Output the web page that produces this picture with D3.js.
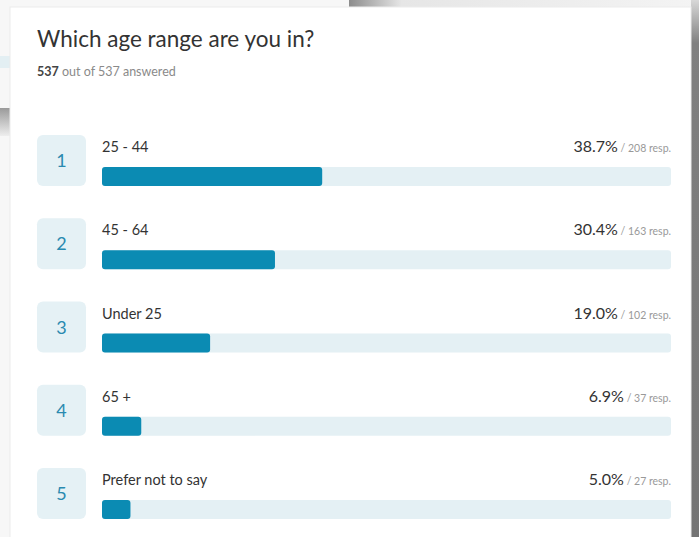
<!DOCTYPE html>
<html>
    <head>
        <meta charset="utf-8">
        <title>Which age range are you in?</title>
        <script src="https://d3js.org/d3.v7.min.js" charset="utf-8"></script>
        <style>
            body { margin: 0; background: #f7f7f7; }
            svg { display: block; font-family: Lato, "Open Sans", sans-serif; }
        </style>
    </head>
    <body>
        <script>
            // data
            var title = "Which age range are you in?";
            var answered = 537, total = 537;
            var ranks = [1, 2, 3, 4, 5];
            var categories = ["25 - 44", "45 - 64", "Under 25", "65 +", "Prefer not to say"];
            var percents = [38.7, 30.4, 19.0, 6.9, 5.0];
            var responses = [208, 163, 102, 37, 27];

            var width = 699, height = 537;
            var barLeft = 102, barWidth = 569, barHeight = 19;

            var svg = d3.select("body").append("svg")
                .attr("width", width)
                .attr("height", height);

            var defs = svg.append("defs");
            var g1 = defs.append("linearGradient").attr("id", "shadeTop").attr("x1", 0).attr("x2", 1);
            g1.append("stop").attr("offset", 0).attr("stop-color", "#8c8c8c");
            g1.append("stop").attr("offset", 0.15).attr("stop-color", "#e6e6e6");
            g1.append("stop").attr("offset", 1).attr("stop-color", "#f4f4f4");
            var g2 = defs.append("linearGradient").attr("id", "shadeRight").attr("x1", 0).attr("x2", 0).attr("y1", 0).attr("y2", 1);
            g2.append("stop").attr("offset", 0).attr("stop-color", "#d8d8d8");
            g2.append("stop").attr("offset", 0.08).attr("stop-color", "#808080");
            g2.append("stop").attr("offset", 1).attr("stop-color", "#747474");
            var g3 = defs.append("linearGradient").attr("id", "shadeLeft").attr("x1", 0).attr("x2", 0).attr("y1", 0).attr("y2", 1);
            g3.append("stop").attr("offset", 0).attr("stop-color", "#9a9a9a");
            g3.append("stop").attr("offset", 1).attr("stop-color", "#eeeeee");

            // screenshot edges (background behind the card)
            svg.append("rect").attr("x", 349).attr("y", 0).attr("width", 350).attr("height", 8).attr("fill", "url(#shadeTop)");
            svg.append("rect").attr("x", 0).attr("y", 56).attr("width", 18).attr("height", 12).attr("fill", "#e3eff3");
            svg.append("rect").attr("x", 0).attr("y", 108).attr("width", 16).attr("height", 28).attr("fill", "url(#shadeLeft)");
            svg.append("rect").attr("x", 691).attr("y", 0).attr("width", 8).attr("height", height).attr("fill", "url(#shadeRight)");

            // card
            svg.append("rect")
                .attr("x", 10).attr("y", 7)
                .attr("width", 681).attr("height", height)
                .attr("fill", "#ffffff")
                .attr("stroke", "#ececec");

            svg.append("text")
                .attr("x", 37).attr("y", 47)
                .attr("font-size", 22.5)
                .attr("fill", "#333")
                .text(title);

            var sub = svg.append("text")
                .attr("x", 37).attr("y", 76)
                .attr("font-size", 12.5)
                .attr("fill", "#8a8a8a");
            sub.append("tspan").attr("font-weight", "bold").attr("fill", "#444").text(answered);
            sub.append("tspan").text(" out of " + total + " answered");

            var x = d3.scaleLinear().domain([0, 100]).range([0, barWidth]);
            var y = d3.scalePoint().domain(categories).range([135, 468]);

            var rows = svg.selectAll(".row")
                .data(categories)
                .enter().append("g")
                .attr("class", "row")
                .attr("transform", function(d) { return "translate(0," + y(d) + ")"; });

            // rank box
            rows.append("rect")
                .attr("x", 37).attr("y", 0)
                .attr("width", 49).attr("height", 51)
                .attr("rx", 6)
                .attr("fill", "#e5f1f5");
            rows.append("text")
                .attr("x", 61.5).attr("y", 32)
                .attr("text-anchor", "middle")
                .attr("font-size", 18)
                .attr("fill", "#2a8ab0")
                .text(function(d, i) { return ranks[i]; });

            // label
            rows.append("text")
                .attr("x", barLeft).attr("y", 17)
                .attr("font-size", 14.5)
                .attr("fill", "#333")
                .text(function(d) { return d; });

            // percent / responses
            var pct = rows.append("text")
                .attr("x", barLeft + barWidth).attr("y", 17)
                .attr("text-anchor", "end");
            pct.append("tspan")
                .attr("font-size", 16)
                .attr("fill", "#333")
                .text(function(d, i) { return percents[i].toFixed(1) + "%"; });
            pct.append("tspan")
                .attr("font-size", 10.5)
                .attr("fill", "#999")
                .text(function(d, i) { return " / " + responses[i] + " resp."; });

            // track and bar
            rows.append("rect")
                .attr("x", barLeft).attr("y", 32)
                .attr("width", x(100)).attr("height", barHeight)
                .attr("rx", 3)
                .attr("fill", "#e4f0f4");
            rows.append("rect")
                .attr("x", barLeft).attr("y", 32)
                .attr("width", function(d, i) { return x(percents[i]); })
                .attr("height", barHeight)
                .attr("rx", 3)
                .attr("fill", "#0b8bb3");
        </script>
    </body>
</html>
